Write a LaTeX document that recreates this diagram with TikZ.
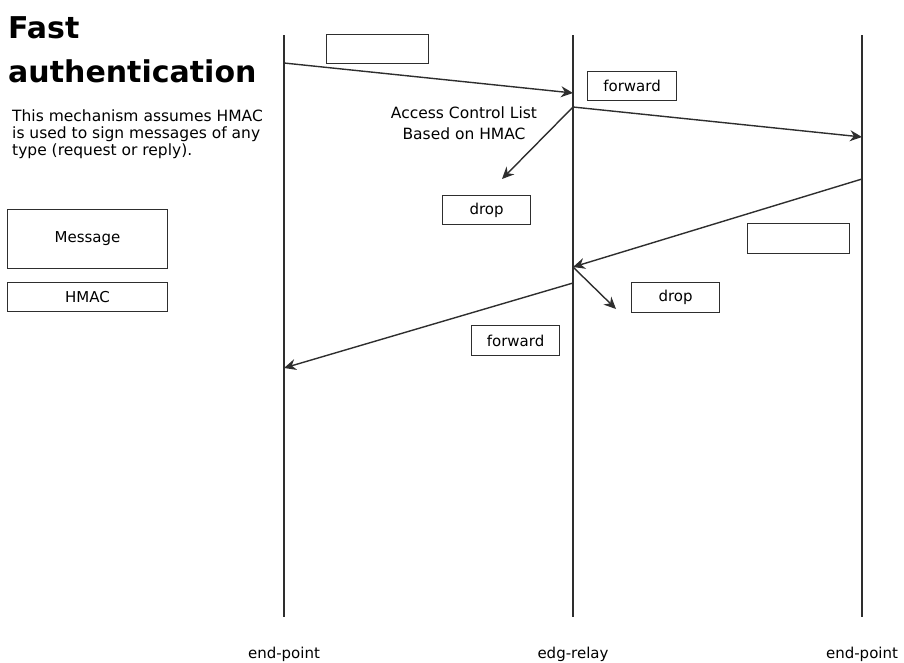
\documentclass[tikz,border=0pt]{standalone}
\usepackage{fontspec}
\setmainfont{DejaVu Sans}
\usetikzlibrary{arrows.meta,positioning}
\definecolor{LineGray}{HTML}{2E2E2E}

\tikzset{
  pktbox/.style={draw=LineGray, line width=1.1pt, inner sep=0pt, anchor=north west,
    font=\fontsize{15}{17}\selectfont},
  msgarrow/.style={draw=LineGray, line width=1.4pt, -{Stealth[length=12pt,width=11pt]}},
}

\begin{document}
\begin{tikzpicture}[x=1pt,y=-1pt]
  \useasboundingbox (0,0) rectangle (904,662);

  % Title and note
  \node[font=\bfseries\fontsize{30}{44}\selectfont, align=left, anchor=north west, inner sep=0pt] (title) at (8,16) {Fast\\authentication};
  \node[font=\fontsize{15.5}{17}\selectfont, align=left, anchor=north west, inner sep=0pt] (note) at (12,110)
    {This mechanism assumes HMAC\\is used to sign messages of any\\type (request or reply).};

  % Legend
  \node[pktbox, minimum width=160pt, minimum height=59pt] (legmsg) at (7,209) {Message};
  \node[pktbox, minimum width=160pt, minimum height=29pt] (leghmac) at (7,282) {HMAC};

  % Lifelines
  \foreach \n/\x/\l in {a/284/end-point, b/573/edg-relay, c/862/end-point} {
    \coordinate (\n top) at (\x,35);
    \coordinate (\n bot) at (\x,617);
    \draw[LineGray, line width=1.3pt] (\n top) -- (\n bot);
    \node[font=\fontsize{15}{17}\selectfont] (\n lab) at (\x,654) {\l};
  }

  % Points on the lifelines
  \coordinate (a1) at (284,63);
  \coordinate (b1) at (573,93);
  \coordinate (b2) at (573,107);
  \coordinate (c1) at (862,137);
  \coordinate (c2) at (862,179);
  \coordinate (b3) at (573,267);
  \coordinate (b4) at (573,283);
  \coordinate (a2) at (284,368);
  \coordinate (drop1) at (502,179);
  \coordinate (drop2) at (616,309);

  % Request
  \draw[msgarrow] (a1) -- (b1);
  \node[pktbox, minimum width=102pt, minimum height=29pt] (req) at (326,34) {};
  \node[font=\fontsize{15.5}{21}\selectfont, align=center] (acl) at (464,123) {Access Control List\\Based on HMAC};
  \node[pktbox, minimum width=89pt, minimum height=29pt] (fwd1) at (587,71) {forward};
  \draw[msgarrow] (b2) -- (drop1);
  \node[pktbox, minimum width=88pt, minimum height=29pt] (drp1) at (442,195) {drop};
  \draw[msgarrow] (b2) -- (c1);

  % Reply
  \draw[msgarrow] (c2) -- (b3);
  \node[pktbox, minimum width=102pt, minimum height=30pt] (rep) at (747,223) {};
  \draw[msgarrow] (b3) -- (drop2);
  \node[pktbox, minimum width=88pt, minimum height=30pt] (drp2) at (631,282) {drop};
  \draw[msgarrow] (b4) -- (a2);
  \node[pktbox, minimum width=88pt, minimum height=30pt] (fwd2) at (471,325) {forward};
\end{tikzpicture}
\end{document}
